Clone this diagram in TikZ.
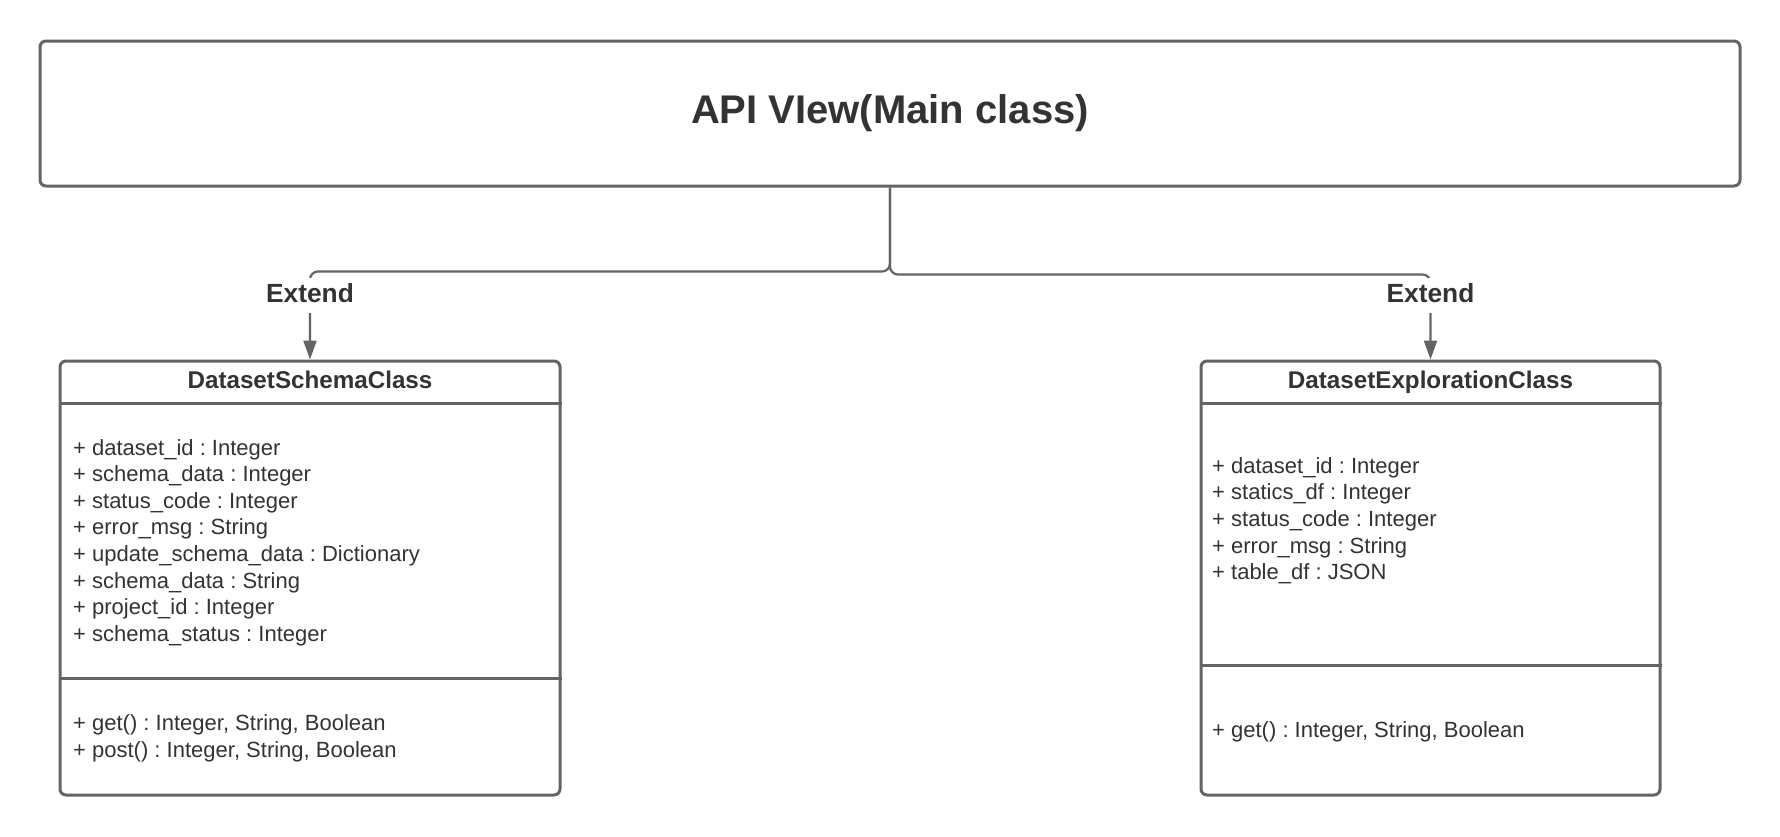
\documentclass[tikz,border=0pt]{standalone}
\usepackage{fontspec}
\setmainfont{Liberation Sans}
\usetikzlibrary{arrows.meta,calc}
\definecolor{linec}{HTML}{646464}
\definecolor{txtc}{HTML}{333333}
\frenchspacing
\begin{document}
\begin{tikzpicture}[x=1pt,y=-1pt,
  box/.style={draw=linec, line width=3pt, rounded corners=6pt, fill=white, inner sep=0pt},
  divider/.style={draw=linec, line width=3pt},
  conn/.style={draw=linec, line width=2.2pt, rounded corners=8pt},
  arr/.style={-{Triangle[length=19pt,width=13pt]}},
  attr/.style={anchor=base west, inner sep=0pt, text=txtc, font=\frenchspacing\fontsize{22}{26}\selectfont},
  hdr/.style={anchor=base, inner sep=0pt, text=txtc, font=\bfseries\fontsize{24.2}{28}\selectfont},
  lbl/.style={anchor=base, fill=white, inner xsep=4pt, inner ysep=5pt, text depth=6pt, text=txtc, font=\bfseries\fontsize{26.3}{30}\selectfont},
]
\useasboundingbox (0,0) rectangle (1780,836);
\fill[white] (0,0) rectangle (1780,836);

% main class
\node[box, minimum width=1700pt, minimum height=145pt] (api) at (890,113.5) {};
\node[anchor=base, inner sep=0pt, text=txtc, font=\bfseries\fontsize{40}{46}\selectfont] (title) at (890,123) {API VIew(Main class)};

% left class
\node[box, minimum width=500pt, minimum height=434pt] (ds) at (310,578) {};
\draw[divider] ($(ds.north west)+(0,44)$) -- ($(ds.north east)+(0,44)$);
\draw[divider] ($(ds.north west)+(0,319)$) -- ($(ds.north east)+(0,319)$);
\node[hdr] (dsh) at (310,388) {DatasetSchemaClass};
\foreach \t [count=\i] in {{+ dataset\_id : Integer},{+ schema\_data : Integer},{+ status\_code : Integer},{+ error\_msg : String},{+ update\_schema\_data : Dictionary},{+ schema\_data : String},{+ project\_id : Integer},{+ schema\_status : Integer}}
  \node[attr] (dsa\i) at (73,{455+26.6*(\i-1)}) {\t};
\node[attr] (dsm1) at (73,730) {+ get() : Integer, String, Boolean};
\node[attr] (dsm2) at (73,757) {+ post() : Integer, String, Boolean};

% right class
\node[box, minimum width=459pt, minimum height=434pt] (de) at (1430.5,578) {};
\draw[divider] ($(de.north west)+(0,44)$) -- ($(de.north east)+(0,44)$);
\draw[divider] ($(de.north west)+(0,306)$) -- ($(de.north east)+(0,306)$);
\node[hdr] (deh) at (1430.5,388) {DatasetExplorationClass};
\foreach \t [count=\i] in {{+ dataset\_id : Integer},{+ statics\_df : Integer},{+ status\_code : Integer},{+ error\_msg : String},{+ table\_df : JSON}}
  \node[attr] (dea\i) at (1212,{473+26.7*(\i-1)}) {\t};
\node[attr] (dem1) at (1212,737) {+ get() : Integer, String, Boolean};

% connectors
\draw[conn, arr] (api.south) -- ++(0,84) -| (ds.north);
\draw[conn, arr] (api.south) -- ++(0,87) -| (de.north);
\node[lbl] (ext1) at (310,302) {Extend};
\node[lbl] (ext2) at (1430.5,302) {Extend};
\end{tikzpicture}
\end{document}
